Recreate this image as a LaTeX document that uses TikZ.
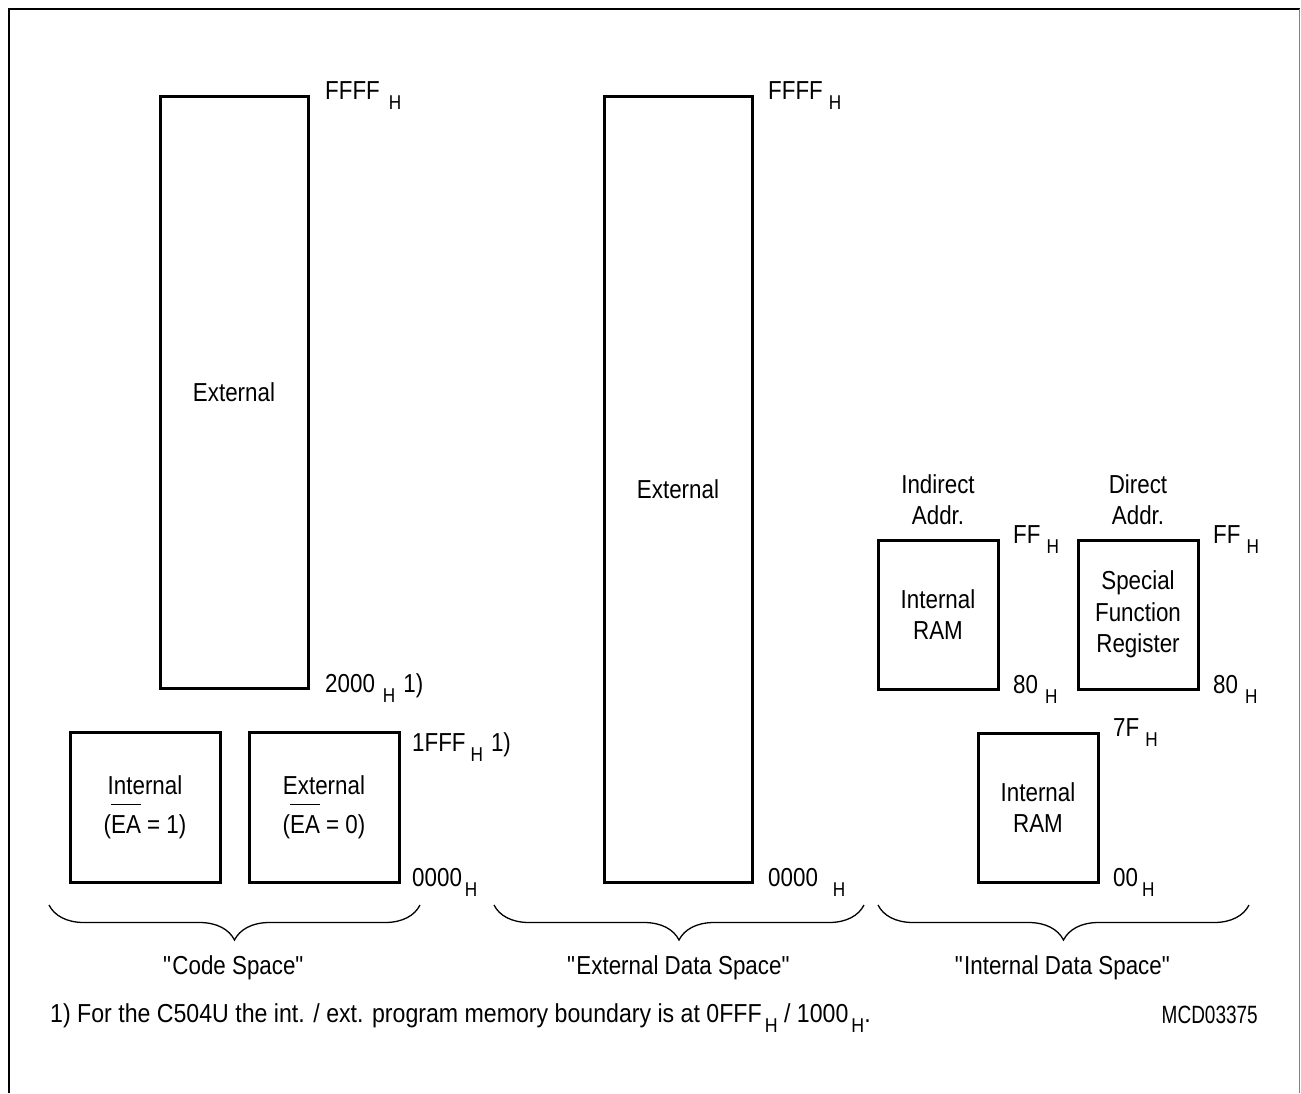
\documentclass[tikz,border=0pt]{standalone}
\usepackage{fontspec}
\setmainfont{Liberation Sans}[FakeStretch=0.86]
\newfontfamily\tagfont{Liberation Sans}[FakeStretch=0.76]
\newfontfamily\notefont{Liberation Sans}[FakeStretch=0.89]
\usetikzlibrary{positioning}
\usetikzlibrary{decorations.pathreplacing}

\newcommand{\bodyfont}{\fontsize{26}{31.5}\selectfont}
\newcommand{\hsub}[1][6pt]{\kern#1\raisebox{-10pt}{\fontsize{20}{20}\selectfont H}}
\newcommand{\eabar}{\setbox0\hbox{EA}\rule{0pt}{38pt}\rlap{\rule[28pt]{\wd0}{1.5pt}}\box0}
\newcommand{\qq}{\textquotedbl}

\begin{document}
\begin{tikzpicture}[x=1pt,y=-1pt,
    membox/.style={draw,line width=3pt,inner sep=0pt,outer sep=0pt,align=center,font=\bodyfont},
    addr/.style={inner sep=0pt,font=\bodyfont},
    note/.style={inner sep=0pt,align=center,font=\bodyfont},
    frame/.style={line width=2.6pt},
    brace/.style={decorate,decoration={brace,mirror,amplitude=35pt},line width=1.3pt}]
	\useasboundingbox (0,0) rectangle (1301,1093);
	\draw[frame] (9,1093) -- (9,9) -- (1300,9);
	\draw[gray,line width=1.2pt] (1299.5,9) -- (1299.5,1093);

	% code space
	\node[membox,minimum width=148pt,minimum height=592pt] (codeext) at (234,392) {External};
	\node[membox,minimum width=150pt,minimum height=150pt] (codeint) at (145,807) {Internal\\(\eabar{} = 1)};
	\node[membox,minimum width=150pt,minimum height=150pt] (codexo) [right=29pt of codeint] {External\\(\eabar{} = 0)};
	\node[addr] (ffffc) [right=17pt of codeext.north east] {FFFF\hsub[9pt]};
	\node[addr] (twok) [right=17pt of codeext.south east] {2000\hsub[8pt]\kern8pt 1)};
	\node[addr] (onefff) [right=13pt of codexo.north east,anchor=north west] {1FFF\hsub[5pt]\kern8pt 1)};
	\node[addr] (zeroc) [right=13pt of codexo.south east] {0000\hsub[3pt]};

	% external data space
	\node[membox,minimum width=148pt,minimum height=786pt] (dataext) at (678,489) {External};
	\node[addr] (ffffd) [right=16pt of dataext.north east] {FFFF\hsub[6pt]};
	\node[addr] (zerod) [right=16pt of dataext.south east] {0000\hsub[15pt]};

	% internal data space
	\node[membox,minimum width=120pt,minimum height=149pt] (ramhi) at (938,614.5) {Internal\\RAM};
	\node[membox,minimum width=120pt,minimum height=149pt] (sfr) [right=80pt of ramhi] {Special\\Function\\Register};
	\node[membox,minimum width=120pt,minimum height=149pt] (ramlo) at (1038,807.5) {Internal\\RAM};
	\node[note] (indir) [above=15pt of ramhi] {Indirect\\Addr.};
	\node[note] (dir) [above=15pt of sfr] {Direct\\Addr.};
	\node[addr] (ffa) [right=15pt of ramhi.north east] {FF\hsub[6pt]};
	\node[addr] (eighta) [right=15pt of ramhi.south east] {80\hsub[7pt]};
	\node[addr] (ffb) [right=15pt of sfr.north east] {FF\hsub[6pt]};
	\node[addr] (eightb) [right=15pt of sfr.south east] {80\hsub[7pt]};
	\node[addr] (sevenf) [right=15pt of ramlo.north east] {7F\hsub[6pt]};
	\node[addr] (zeroi) [right=15pt of ramlo.south east] {00\hsub[4pt]};

	% braces
	\draw[brace] (49,905) -- (420,905);
	\draw[brace] (494,905) -- (864,905);
	\draw[brace] (878,905) -- (1249,905);
	\node[note] (codesp) at (234,968) {\qq Code Space\qq};
	\node[note] (extsp) at (679,968) {\qq External Data Space\qq};
	\node[note] (intsp) at (1063,968) {\qq Internal Data Space\qq};

	\node[note,anchor=base west,font=\notefont\bodyfont] (fnote) at (50,1022) {1) For the C504U the int. / ext. program memory boundary is at 0FFF\hsub[3pt] / 1000\hsub[3pt].};
	\node[addr,anchor=base east,font=\tagfont\fontsize{25}{30}\selectfont] (mcd) at (1258,1023) {MCD03375};
\end{tikzpicture}
\end{document}
